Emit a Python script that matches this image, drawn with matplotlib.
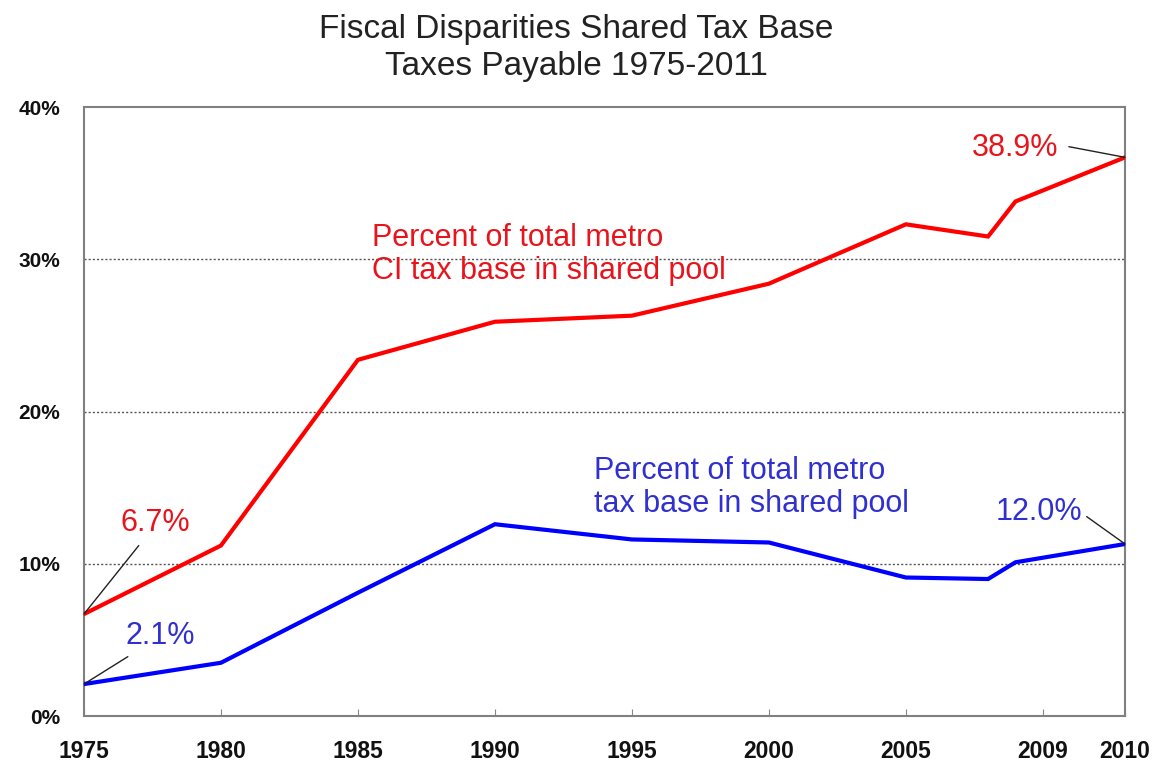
import numpy as np
from matplotlib import pyplot as plt

plt.rcParams['font.family'] = ['Liberation Sans', 'DejaVu Sans']

# x positions follow the spacing of the original chart axis
years = [1975, 1980, 1985, 1990, 1995, 2000, 2005, 2008, 2009, 2013]
ci_share = [6.7, 11.2, 23.4, 25.9, 26.3, 28.4, 32.3, 31.5, 33.8, 36.7]
total_share = [2.1, 3.5, 8.1, 12.6, 11.6, 11.4, 9.1, 9.0, 10.1, 11.3]

tick_pos = [1975, 1980, 1985, 1990, 1995, 2000, 2005, 2010, 2013]
tick_labels = ['1975', '1980', '1985', '1990', '1995', '2000', '2005', '2009', '2010']
y_ticks = [0, 10, 20, 30, 40]

red = '#ff0000'
red_txt = '#e8141c'
blue = '#0000ff'
blue_txt = '#3030d0'

fig = plt.figure(figsize=(11.52, 7.65), dpi=100)
ax = fig.add_axes([0.0729, 0.064, 0.9037, 0.796])

for y in y_ticks[1:-1]:
    ax.axhline(y, color='#555555', lw=1, ls=(0, (1.5, 1.5)), zorder=1)

ax.plot(years, ci_share, color=red, lw=3, zorder=3, solid_joinstyle='miter')
ax.plot(years, total_share, color=blue, lw=3, zorder=3, solid_joinstyle='miter')

ax.set_xlim(years[0], years[-1])
ax.set_ylim(0, 40)
ax.set_xticks(tick_pos)
ax.set_xticklabels(tick_labels, fontsize=16.5, fontweight='bold', color='#111111')
ax.set_yticks(y_ticks)
ax.set_yticklabels([f'{v}%' for v in y_ticks], fontsize=15, fontweight='bold', color='#111111')
ax.tick_params(axis='x', direction='in', length=5, color='#888888', pad=17)
ax.tick_params(axis='y', length=0, pad=17)
for s in ax.spines.values():
    s.set_color('#808080')
    s.set_linewidth(1.5)

# leader lines and value labels
leader = dict(arrowstyle='-', color='#222222', lw=1, shrinkA=0, shrinkB=0)
ax.annotate('', xy=(years[0], ci_share[0]), xytext=(1977.0, 11.2), arrowprops=leader)
ax.text(1977.6, 12.7, '6.7%', color=red_txt, fontsize=22, ha='center', va='center')
ax.annotate('', xy=(years[0], total_share[0]), xytext=(1976.6, 3.9), arrowprops=leader)
ax.text(1977.8, 5.25, '2.1%', color=blue_txt, fontsize=22, ha='center', va='center')
ax.annotate('', xy=(years[-1], ci_share[-1]), xytext=(2010.95, 37.4), arrowprops=leader,
            annotation_clip=False)
ax.text(2009.0, 37.3, '38.9%', color=red_txt, fontsize=22, ha='center', va='center')
ax.annotate('', xy=(years[-1], total_share[-1]), xytext=(2011.6, 13.1), arrowprops=leader,
            annotation_clip=False)
ax.text(2009.85, 13.4, '12.0%', color=blue_txt, fontsize=22, ha='center', va='center')

ax.text(1985.5, 30.3, 'Percent of total metro\nCI tax base in shared pool',
        color=red_txt, fontsize=22, ha='left', va='center', linespacing=1.12)
ax.text(1993.6, 15.0, 'Percent of total metro\ntax base in shared pool',
        color=blue_txt, fontsize=22, ha='left', va='center', linespacing=1.12)

fig.suptitle('Fiscal Disparities Shared Tax Base\nTaxes Payable 1975-2011',
             x=0.5, y=0.982, fontsize=24, color='#222222', linespacing=1.27)

fig.savefig('out.png', dpi=100)
